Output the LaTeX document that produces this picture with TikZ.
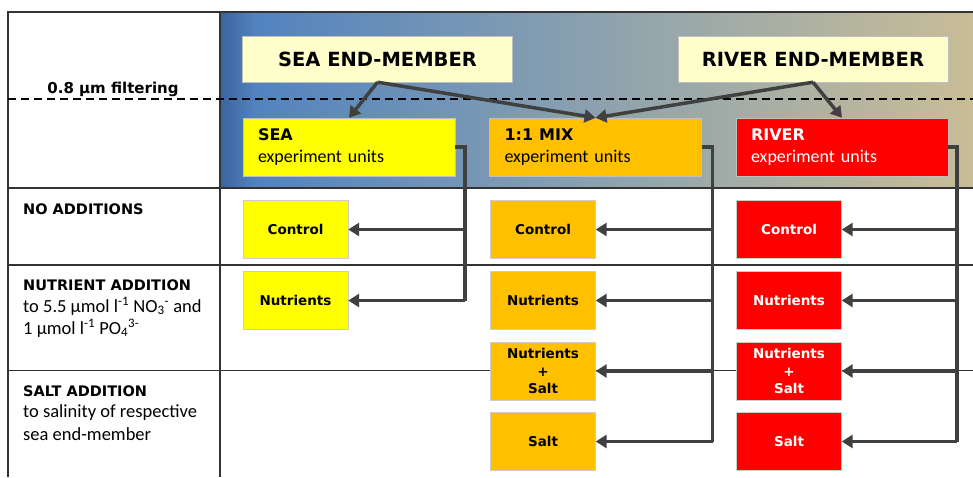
\documentclass[tikz,border=0pt]{standalone}
\usepackage{fontspec}
\setmainfont{Carlito}
\newfontfamily\heavy{DejaVu Sans}[BoldFont=* Bold]
\usetikzlibrary{arrows.meta}

\definecolor{gridgray}{HTML}{333333}
\definecolor{flowgray}{HTML}{404040}
\definecolor{emfill}{HTML}{FFFFCC}
\definecolor{seayel}{HTML}{FFFF00}
\definecolor{mixorange}{HTML}{FFC000}
\definecolor{riverred}{HTML}{FF0000}
\definecolor{bgdark}{HTML}{3A649C}
\definecolor{bgblue}{HTML}{5283BF}
\definecolor{bgmid}{HTML}{8FA3AE}
\definecolor{bgtan}{HTML}{C9BD97}

\tikzset{
  grid/.style={draw=gridgray, line width=1.8pt},
  endmember/.style={draw=black!25, fill=emfill, minimum width=270, minimum height=46,
    inner sep=0pt, font=\heavy\bfseries\fontsize{19.5}{22}\selectfont},
  bigunit/.style={draw=black!25, minimum width=212, minimum height=58, inner xsep=15pt,
    text width=182, align=left, font=\fontsize{18}{22}\selectfont},
  unit/.style={draw=black!20, minimum width=105, minimum height=58, inner sep=0pt,
    align=center, font=\heavy\bfseries\fontsize{13.5}{17.5}\selectfont},
  rowhead/.style={anchor=base west, inner sep=0pt, font=\heavy\bfseries\fontsize{14.5}{18}\selectfont},
  rowtext/.style={anchor=base west, inner sep=0pt, font=\fontsize{18.5}{22}\selectfont},
  flow/.style={draw=flowgray, line width=3.5pt, -{Triangle[length=11pt,width=13pt]}},
  trunk/.style={draw=flowgray, line width=3.5pt}
}

\begin{document}
\begin{tikzpicture}[x=1pt,y=-1pt]
  \useasboundingbox (0,0) rectangle (973,477);
  % background of the header
  \shade[left color=bgdark, right color=bgblue] (220,12) rectangle (255,188);
  \shade[left color=bgblue, right color=bgtan, middle color=bgmid] (255,12) rectangle (973,188);
  % table lines
  \draw[grid] (973,12) -- (8,12) -- (8,477);
  \draw[grid] (220,12) -- (220,477);
  \draw[grid] (8,188) -- (973,188);
  \draw[grid] (8,265) -- (973,265);
  \draw[grid] (8,370.5) -- (973,370.5);
  \draw[line width=2.2pt, dash pattern=on 8pt off 5pt] (8,99) -- (973,99);
  \node[anchor=base, inner sep=0pt, font=\heavy\bfseries\fontsize{15}{18}\selectfont] (filt) at (113,93.5) {0.8 µm filtering};

  % row labels
  \node[rowhead] (noadd) at (23,214) {NO ADDITIONS};
  \node[rowhead] (nutadd) at (23,290.5) {NUTRIENT ADDITION};
  \node[rowtext] (nutA) at (23,312) {to 5.5 µmol l\textsuperscript{-1} NO\textsubscript{3}\textsuperscript{-} and};
  \node[rowtext] (nutB) at (23,334) {1 µmol l\textsuperscript{-1} PO\textsubscript{4}\textsuperscript{3-}};
  \node[rowhead] (saltadd) at (23,396) {SALT ADDITION};
  \node[rowtext] (saltA) at (23,417.5) {to salinity of respective};
  \node[rowtext] (saltB) at (23,440) {sea end-member};

  % end-members and experiment units
  \node[endmember] (seaem) at (377.5,59) {SEA END-MEMBER};
  \node[endmember] (riverem) at (813,59) {RIVER END-MEMBER};
  \node[bigunit, fill=seayel] (sea) at (349,147) {{\heavy\bfseries\fontsize{16}{22}\selectfont SEA}\\experiment units};
  \node[bigunit, fill=mixorange] (mix) at (595.5,147) {{\heavy\bfseries\fontsize{16}{22}\selectfont 1:1 MIX}\\experiment units};
  \node[bigunit, fill=riverred, text=white] (river) at (842,147) {{\heavy\bfseries\fontsize{16}{22}\selectfont RIVER}\\experiment units};

  % treatments
  \node[unit, fill=seayel] (seactl) at (295.5,229.5) {Control};
  \node[unit, fill=seayel] (seanut) at (295.5,300.5) {Nutrients};
  \node[unit, fill=mixorange] (mixctl) at (543,229.5) {Control};
  \node[unit, fill=mixorange] (mixnut) at (543,300.5) {Nutrients};
  \node[unit, fill=mixorange] (mixns) at (543,371) {Nutrients\\+\\Salt};
  \node[unit, fill=mixorange] (mixsalt) at (543,441.5) {Salt};
  \node[unit, fill=riverred, text=white] (rivctl) at (789,229.5) {Control};
  \node[unit, fill=riverred, text=white] (rivnut) at (789,300.5) {Nutrients};
  \node[unit, fill=riverred, text=white] (rivns) at (789,371) {Nutrients\\+\\Salt};
  \node[unit, fill=riverred, text=white] (rivsalt) at (789,441.5) {Salt};

  % filtering arrows
  \draw[flow] (seaem.south) -- (sea.north);
  \draw[flow] (seaem.south) -- (mix.north);
  \draw[flow] (riverem.south) -- (mix.north);
  \draw[flow] (riverem.south) -- (river.north);

  % distribution to treatments
  \coordinate (seatr) at ([xshift=10pt]sea.east);
  \coordinate (mixtr) at ([xshift=11pt]mix.east);
  \coordinate (rivtr) at ([xshift=9pt]river.east);
  \draw[trunk] (sea.east) -- (seatr) -- (seatr |- seanut.east);
  \draw[trunk] (mix.east) -- (mixtr) -- (mixtr |- mixsalt.east);
  \draw[trunk] (river.east) -- (rivtr) -- (rivtr |- rivsalt.east);
  \foreach \a in {seactl,seanut}
    \draw[flow] (seatr |- \a.east) -- (\a.east);
  \foreach \a in {mixctl,mixnut,mixns,mixsalt}
    \draw[flow] (mixtr |- \a.east) -- (\a.east);
  \foreach \a in {rivctl,rivnut,rivns,rivsalt}
    \draw[flow] (rivtr |- \a.east) -- (\a.east);
\end{tikzpicture}
\end{document}
